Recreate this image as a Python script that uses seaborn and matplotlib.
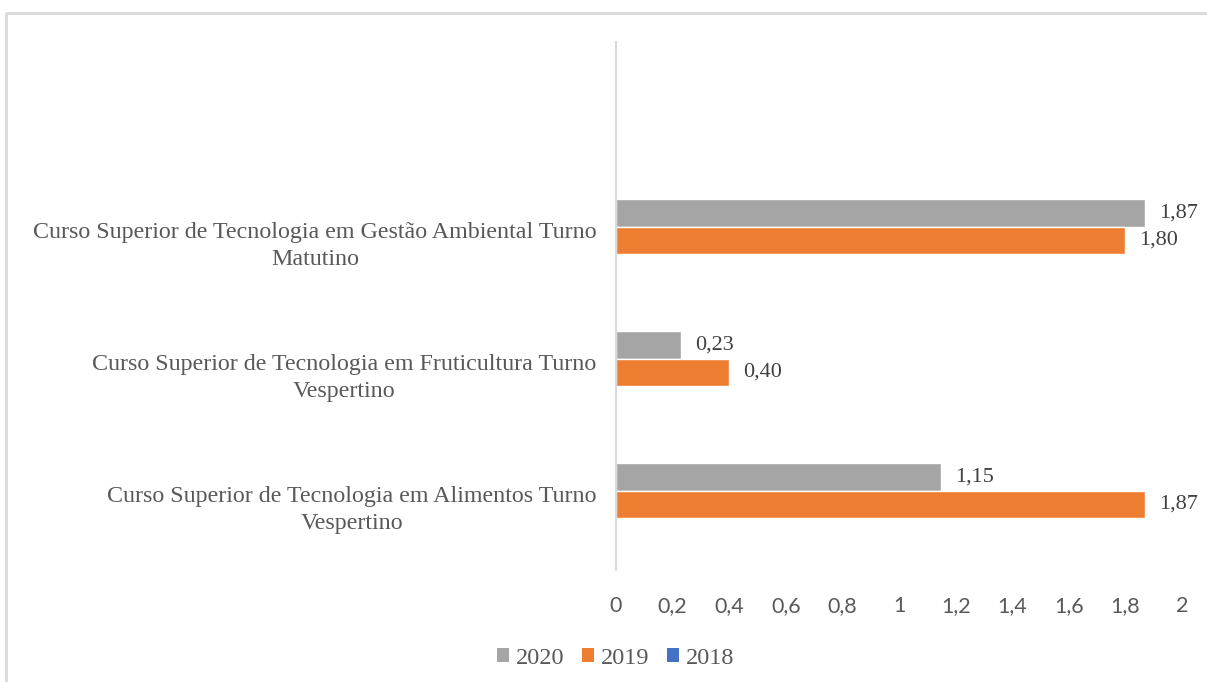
import matplotlib
matplotlib.use('Agg')
import numpy as np
import pandas as pd
import seaborn as sns
import matplotlib.pyplot as plt
from matplotlib.patches import Patch
from matplotlib.lines import Line2D

# categories, top to bottom (the top slot is empty in the original chart)
cursos = [
    " ",
    "Curso Superior de Tecnologia em Gestão Ambiental Turno\nMatutino",
    "Curso Superior de Tecnologia em Fruticultura Turno\nVespertino",
    "Curso Superior de Tecnologia em Alimentos Turno\nVespertino",
]
anos = ["2020", "2019", "2018"]
v2020 = [np.nan, 1.87, 0.23, 1.15]
v2019 = [np.nan, 1.80, 0.40, 1.87]
v2018 = [np.nan, np.nan, np.nan, np.nan]
cores = {"2020": "#A5A5A5", "2019": "#ED7D31", "2018": "#4472C4"}

df = pd.DataFrame({
    "curso": cursos * 3,
    "ano": ["2020"] * 4 + ["2019"] * 4 + ["2018"] * 4,
    "valor": v2020 + v2019 + v2018,
})

sns.set_theme(style='white')
plt.rcParams['font.family'] = ['Liberation Serif', 'DejaVu Serif']

fig = plt.figure(figsize=(12.07, 6.82), dpi=100)
ax = fig.add_axes([0.5104, 0.1642, 0.4689, 0.7742])

sns.barplot(data=df, x="valor", y="curso", hue="ano", order=cursos,
            hue_order=anos, palette=cores, width=0.614, ax=ax,
            legend=False, saturation=1, errorbar=None)

# value labels
for cont in ax.containers:
    labels = ["" if np.isnan(v) else f"{v:.2f}".replace(".", ",")
              for v in cont.datavalues]
    ax.bar_label(cont, labels=labels, padding=10, fontsize=16,
                 color="#404040")

ax.set_xlim(0, 2)
ax.set_ylim(3.5, -0.5)
ax.set_xticks(np.arange(0, 2.01, 0.2))
ax.set_xticklabels(["0", "0,2", "0,4", "0,6", "0,8", "1", "1,2", "1,4",
                    "1,6", "1,8", "2"], family=["Lato", "DejaVu Sans"],
                   fontsize=15.5, color="#595959")
ax.tick_params(axis='x', length=0, pad=19)
ax.tick_params(axis='y', length=0, pad=14)
for lab in ax.get_yticklabels():
    lab.set_fontsize(17.3)
    lab.set_color("#595959")
    lab.set_multialignment("center")
    lab.set_linespacing(1.4)
ax.set_xlabel("")
ax.set_ylabel("")

for s in ["top", "right", "bottom"]:
    ax.spines[s].set_visible(False)
ax.spines["left"].set_color("#D9D9D9")
ax.spines["left"].set_linewidth(1.5)

handles = [Patch(facecolor=cores[a], edgecolor="none", label=a) for a in anos]
fig.legend(handles=handles, loc="center", bbox_to_anchor=(0.51, 0.035),
           ncol=3, frameon=False, fontsize=17.5, handlelength=0.5,
           handleheight=0.5, handletextpad=0.3, columnspacing=0.7,
           labelcolor="#595959")

# light frame around the chart area (top and left edges)
fig.add_artist(Line2D([0.005, 0.005, 1.0], [0.0, 0.981, 0.981],
                      transform=fig.transFigure, color="#D9D9D9", lw=2))

fig.savefig("out.png", dpi=100, facecolor="white")
